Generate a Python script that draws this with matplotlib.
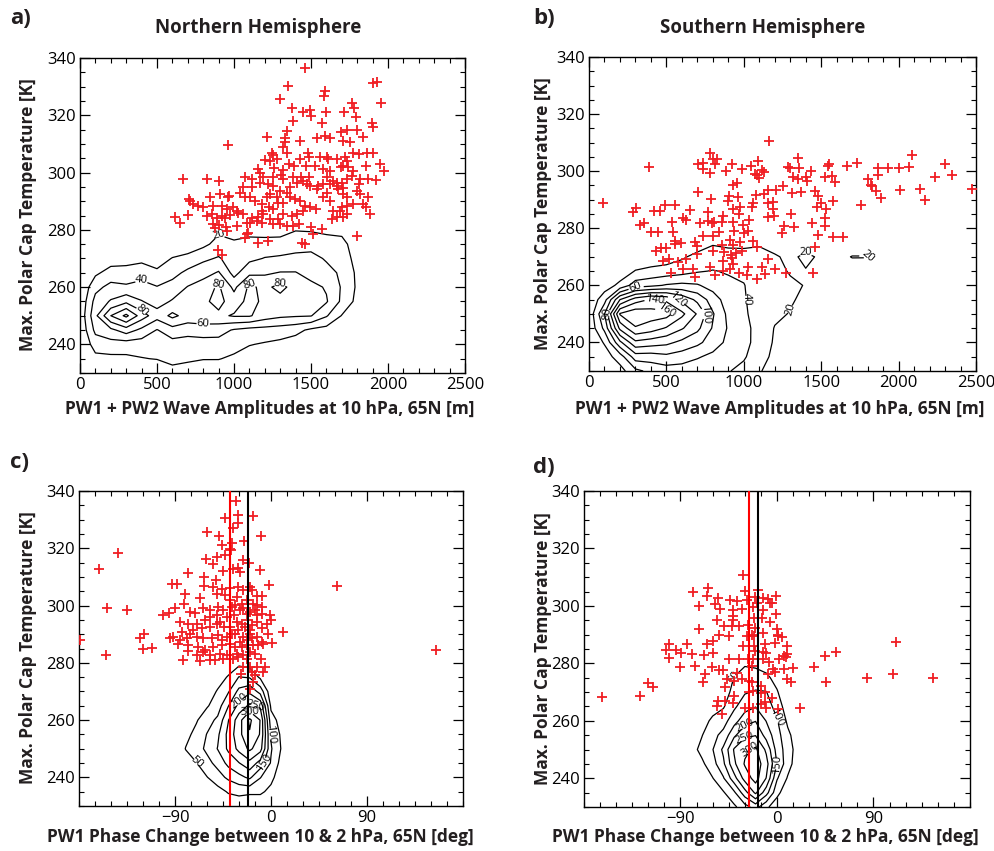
import numpy as np
import matplotlib
matplotlib.use('Agg')
import matplotlib.pyplot as plt
from matplotlib.ticker import MultipleLocator

plt.rcParams['font.family'] = ['Open Sans', 'DejaVu Sans']

# ---------------- scatter data ----------------
# panel a: NH wave amplitude [m] vs max polar cap temperature [K]
nh_amp = [1464, 1353, 1299, 1927, 1905, 1953, 1591, 1585, 1375, 1446, 1494, 1498, 1598, 1715, 1764, 1780,
          1793, 1894, 1901, 1381, 1570, 1347, 1331, 1217, 1429, 1331, 1321, 1541, 1591, 1624, 1693, 1736,
          1797, 1710, 1754, 1840, 961, 1245, 1256, 1234, 1202, 1277, 1342, 1360, 1429, 1483, 1490, 1559,
          1602, 1613, 1667, 1721, 1732, 1775, 1814, 1862, 1901, 1858, 1949, 1975, 1922, 1158, 1169, 1260,
          1321, 1390, 1468, 1526, 1580, 1624, 1693, 1710, 1743, 1771, 1602, 1645, 1667, 1700, 1732, 1764,
          1819, 1868, 1810, 1072, 1115, 1186, 1251, 1308, 1321, 1381, 1435, 1485, 1548, 1580, 1624, 1667,
          1678, 1710, 1710, 1732, 1797, 1819, 1868, 1840, 1855, 1884, 1775, 1732, 1700, 1732, 1689, 1645,
          1624, 1580, 1602, 1537, 1494, 1477, 1451, 1407, 1364, 1342, 1299, 1256, 1223, 1169, 1115, 1061,
          1039, 1072, 1104, 1137, 1180, 1212, 1234, 1277, 1288, 1321, 1364, 1396, 1429, 1461, 1494, 1533,
          1451, 1407, 1375, 1321, 1288, 1234, 1191, 1158, 1180, 1147, 1115, 1083, 1061, 1024, 996, 953,
          920, 888, 866, 877, 903, 946, 957, 1018, 1093, 1104, 866, 844, 801, 769, 736, 714,
          710, 704, 671, 617, 650, 827, 903, 909, 968, 1022, 823, 855, 1083, 1072, 1158, 1219,
          1251, 1299, 1342, 1381, 1420, 1498, 1511, 1570, 1635, 1667, 1710, 1442, 1459, 1797, 896, 924,
          963, 920, 942, 974, 1230, 1256, 1180]
nh_tmax_a = [336.5, 330.3, 325.7, 331.5, 331.3, 324.2, 328.6, 326.8, 322.5, 321.3, 321.8, 319.7, 321.2, 321.3, 324.2, 322.5,
             319.5, 317.2, 316.0, 318.1, 317.2, 314.4, 312.0, 312.5, 311.1, 310.5, 308.8, 311.9, 312.8, 312.0, 314.2, 314.8,
             314.8, 311.1, 310.5, 312.3, 309.6, 307.0, 306.2, 304.1, 304.3, 304.7, 307.0, 302.9, 304.7, 307.0, 305.5, 305.3,
             305.5, 304.7, 304.9, 305.3, 304.1, 307.0, 306.4, 306.7, 306.7, 302.4, 302.9, 300.4, 297.3, 301.2, 300.0, 301.5,
             300.8, 302.4, 302.4, 302.4, 301.2, 300.6, 301.8, 302.4, 301.8, 300.6, 298.5, 297.1, 296.5, 296.5, 297.7, 298.7,
             297.7, 297.7, 296.0, 298.3, 297.7, 298.5, 298.5, 299.2, 297.7, 298.5, 298.3, 298.5, 295.4, 296.0, 296.0, 295.4,
             294.2, 294.5, 292.5, 291.3, 293.6, 292.5, 291.3, 289.0, 287.8, 285.5, 289.0, 288.4, 287.8, 285.5, 286.6, 286.6,
             290.1, 291.3, 293.0, 294.2, 295.4, 296.0, 297.1, 296.5, 294.8, 293.0, 293.6, 295.4, 296.0, 296.5, 294.8, 294.8,
             293.0, 291.3, 291.3, 290.1, 289.0, 291.3, 292.5, 291.3, 289.5, 289.5, 291.3, 290.7, 290.1, 288.4, 287.8, 287.2,
             286.6, 285.5, 284.9, 285.5, 283.7, 283.7, 285.5, 284.5, 282.5, 283.1, 284.3, 282.5, 285.5, 285.7, 287.8, 287.2,
             284.9, 284.3, 282.0, 280.8, 281.7, 281.0, 279.6, 281.4, 279.0, 282.5, 288.4, 291.3, 287.8, 288.4, 289.0, 290.1,
             290.7, 285.2, 297.7, 284.6, 282.5, 297.6, 296.9, 292.5, 291.9, 286.6, 284.9, 285.5, 278.5, 277.3, 275.5, 276.1,
             282.0, 282.0, 281.4, 281.4, 282.2, 281.1, 278.7, 280.2, 283.7, 284.5, 284.5, 275.5, 274.9, 277.9, 272.9, 271.2,
             291.3, 288.4, 284.3, 285.2, 287.8, 287.2, 286.6]

# panel b: SH wave amplitude [m] vs max polar cap temperature [K]
sh_amp = [93, 282, 304, 329, 355, 390, 420, 459, 398, 448, 433, 463, 497, 480, 528, 491,
          556, 534, 545, 556, 592, 556, 577, 605, 627, 609, 627, 652, 670, 685, 685, 695,
          706, 717, 734, 739, 739, 706, 771, 771, 782, 803, 814, 825, 782, 788, 792, 808,
          803, 799, 782, 814, 842, 861, 861, 868, 863, 863, 872, 885, 900, 907, 911, 915,
          922, 928, 932, 932, 932, 937, 922, 928, 911, 950, 954, 965, 975, 971, 975, 986,
          986, 971, 997, 1001, 1029, 1029, 1018, 1036, 1046, 1051, 1062, 1062, 1072, 1079, 1083, 1087,
          1094, 1100, 1115, 1115, 1130, 1130, 1087, 1137, 1158, 1165, 1158, 1158, 1191, 1191, 1158, 1195,
          1208, 1201, 1251, 1260, 1245, 1272, 1285, 1298, 1303, 1309, 1320, 1324, 1350, 1359, 1352, 1367,
          1402, 1406, 1432, 1438, 1445, 1460, 1471, 1481, 1460, 1481, 1496, 1524, 1531, 1527, 1524, 1546,
          1552, 1568, 1574, 1589, 1574, 1643, 1664, 1733, 1755, 1804, 1819, 1826, 1854, 1865, 1869, 1884,
          1933, 2004, 2009, 2069, 2084, 2138, 2170, 2235, 2300, 2343, 2472, 700, 519]
sh_tmax_b = [289.0, 285.6, 287.1, 281.1, 281.8, 301.6, 286.0, 286.0, 278.8, 278.8, 271.9, 273.2, 273.0, 268.6, 264.4, 288.1,
             288.1, 282.1, 278.8, 275.7, 274.9, 274.5, 268.1, 265.6, 269.3, 283.5, 283.0, 286.5, 265.8, 262.9, 275.3, 273.9,
             302.4, 281.8, 303.0, 300.9, 277.4, 292.8, 285.8, 282.6, 306.2, 304.4, 302.4, 304.4, 299.3, 290.2, 281.8, 282.3,
             277.4, 272.2, 266.4, 263.5, 278.6, 274.2, 282.1, 284.4, 268.4, 264.9, 271.6, 300.1, 289.6, 291.4, 276.0, 270.5,
             302.4, 295.1, 286.7, 282.1, 274.2, 279.2, 269.5, 267.6, 265.6, 271.4, 295.8, 290.9, 287.6, 284.9, 275.1, 300.6,
             272.2, 264.4, 281.1, 278.3, 279.2, 266.4, 263.7, 283.0, 301.8, 287.3, 289.0, 275.7, 298.9, 291.6, 273.4, 298.5,
             303.5, 297.7, 266.4, 300.4, 299.7, 291.9, 262.3, 264.1, 269.3, 310.5, 293.4, 289.0, 289.3, 286.7, 283.8, 284.4,
             293.4, 265.8, 294.8, 280.7, 278.3, 264.4, 301.6, 301.2, 285.0, 292.5, 298.1, 280.3, 304.7, 301.2, 297.2, 292.7,
             298.1, 296.6, 300.1, 281.8, 264.4, 293.1, 287.3, 291.4, 273.4, 277.7, 288.8, 298.1, 286.7, 283.5, 280.9, 301.8,
             302.4, 298.3, 289.6, 296.2, 277.1, 276.8, 301.8, 303.0, 288.1, 297.2, 295.1, 294.8, 293.1, 298.6, 301.1, 290.5,
             301.1, 301.1, 293.4, 301.6, 305.5, 293.7, 289.9, 298.1, 302.5, 298.5, 293.9, 270.9, 269.1]

# panel c: NH PW1 phase change [deg] vs max polar cap temperature [K]
nh_phase = [-33.1, -43.1, -30.6, -31.2, -16.5, -35.9, -59.6, -48.7, -36.8, -25.3, -9.6, -46.2, -38.4, -37.5, -43.1, -143.7,
            -60.9, -50.9, -54.0, -25.9, -20.3, -35.9, -30.6, -29.0, -10.3, -44.6, -160.9, -77.5, -62.8, -51.8, -93.1, -87.8,
            -62.5, -54.0, -46.2, -38.4, -30.6, -25.9, -19.6, -18.1, -13.4, -8.7, -1.8, 61.6, -80.6, -66.5, -50.9, -43.1,
            -32.2, -22.8, -17.1, -8.7, -153.4, -135.3, -100.9, -95.6, -90.0, -81.2, -75.9, -71.2, -63.4, -57.1, -50.9, -44.6,
            -36.8, -34.7, -29.0, -22.8, -14.9, -0.9, -0.3, -4.0, -85.3, -77.5, -69.6, -61.8, -57.1, -50.9, -44.0, -38.4,
            -32.2, -27.5, -21.2, -18.1, -13.4, -8.7, 11.6, -179.0, -122.8, -119.0, -91.5, -83.7, -75.9, -69.6, -63.4, -55.6,
            -49.3, -41.5, -33.7, -25.9, -19.6, -13.4, -8.7, -2.5, 0.7, -120.3, -111.8, -86.8, -77.5, -68.1, -61.8, -54.0,
            -46.2, -38.4, -33.7, -29.0, -22.8, -16.5, -155.0, -77.5, -69.6, -63.4, -57.1, -47.8, -41.5, -32.2, -25.9, -19.6,
            -82.8, -66.5, -57.1, -52.5, -44.6, -35.9, -30.6, -22.1, -14.9, -9.7, -25.9, -19.6, -12.8, -5.6, -28.4, -18.1,
            -14.9, -7.2, -16.5, -19.6, -38.4, -33.7, -27.5, -25.9, -19.6, -13.4, -41.5, -47.8, -24.3, -19.6, -30.6, -36.8,
            -46.2, -22.8, -18.1, -27.5, -11.8, -7.2, -13.4, -8.7, -49.3, -57.1, -65.0, -72.8, -79.0, -94.6, -85.3, 155.0]
nh_tmax_c = [336.6, 330.4, 331.6, 328.7, 331.3, 327.2, 325.8, 324.3, 321.7, 322.5, 324.4, 321.3, 319.9, 319.4, 317.8, 318.2,
             316.4, 317.0, 314.5, 315.8, 314.7, 312.7, 313.2, 311.8, 312.4, 312.0, 312.6, 311.2, 309.8, 308.9, 307.5, 307.5,
             306.8, 306.5, 305.9, 306.3, 306.5, 305.4, 306.5, 305.4, 303.3, 303.3, 307.1, 306.8, 304.2, 302.5, 304.2, 303.6,
             303.0, 301.9, 300.7, 299.5, 299.3, 298.6, 296.8, 297.4, 299.0, 300.5, 297.6, 297.4, 299.0, 298.4, 296.6, 298.4,
             299.5, 296.6, 298.4, 297.2, 298.4, 296.6, 295.1, 293.7, 294.3, 293.7, 293.7, 294.9, 292.5, 293.7, 292.5, 292.5,
             294.3, 293.7, 294.9, 293.1, 294.3, 292.0, 290.8, 287.9, 288.5, 290.0, 289.0, 290.8, 290.2, 289.0, 288.5, 288.5,
             289.6, 289.0, 290.2, 289.0, 290.2, 289.0, 287.3, 289.9, 287.0, 285.0, 285.3, 286.5, 286.1, 285.5, 284.4, 285.5,
             286.1, 286.7, 285.5, 287.3, 286.1, 286.1, 282.9, 284.0, 282.6, 283.8, 282.6, 283.2, 282.6, 283.2, 282.6, 283.8,
             280.9, 280.6, 280.9, 280.9, 281.5, 281.5, 282.1, 281.5, 283.2, 281.5, 278.6, 278.6, 278.6, 278.6, 276.2, 276.8,
             275.6, 276.8, 273.3, 271.0, 301.9, 300.1, 300.7, 299.0, 297.8, 296.6, 296.0, 294.3, 292.5, 291.4, 291.4, 290.2,
             287.9, 287.9, 288.5, 285.5, 286.1, 286.7, 300.1, 297.2, 299.5, 296.0, 292.0, 291.4, 288.5, 288.5, 287.9, 284.6]

# panel d: SH PW1 phase change [deg] vs max polar cap temperature [K]
sh_phase = [-31.3, -78.0, -64.0, -29.8, -17.3, -64.9, -54.7, -43.8, -37.6, -28.2, -20.5, -13.3, -8.0, -0.9, -72.4, -57.8,
            -53.1, -40.7, -32.9, -12.7, -4.9, -21.4, -14.3, -0.9, -40.7, -55.6, -41.3, -6.5, -49.1, -42.2, -35.1, -26.7,
            -72.4, -53.7, -44.4, -28.2, -23.6, -13.3, -0.2, 1.3, 4.4, -100.4, -84.2, -64.9, -59.9, -31.3, -21.4, -11.1,
            -1.8, 9.7, -103.5, -94.2, -89.8, -79.5, -68.0, -59.9, -20.8, -13.1, -10.0, 6.6, 8.5, 44.9, 55.1, 111.1,
            -100.4, -44.4, -35.1, -26.7, -22.0, -13.3, -7.1, 2.2, -90.4, -76.4, -60.9, -53.7, -50.6, -37.6, -23.6, -4.0,
            6.6, 15.3, 34.6, -67.1, -46.3, -40.1, -32.9, -23.6, -15.2, -8.0, -1.8, 9.7, 12.8, 45.8, 84.4, 108.0,
            145.3, -120.0, -115.9, -69.3, -48.4, -127.7, -163.5, -40.1, -25.7, -22.6, -15.2, -11.1, -4.9, -11.1, -54.7, -48.4,
            -41.3, -55.6, -29.8, -22.0, -15.2, -10.2, 1.3, 21.5, -51.5, -25.7, -21.4, -20.5, -22.0, -18.9, 1.3, 9.1, -6.5]
sh_tmax_d = [310.8, 304.7, 306.2, 305.3, 305.6, 303.5, 302.7, 302.0, 301.6, 302.2, 303.1, 302.7, 302.4, 303.3, 300.1, 300.8,
             298.9, 298.7, 298.9, 298.7, 301.0, 295.8, 295.8, 297.3, 296.4, 295.0, 295.0, 294.3, 292.9, 292.9, 292.9, 293.5,
             291.8, 289.7, 289.5, 289.5, 289.7, 290.6, 291.8, 289.5, 289.2, 286.6, 286.9, 286.9, 287.7, 286.0, 286.0, 286.6,
             287.2, 286.2, 284.6, 284.6, 283.5, 283.1, 282.8, 283.7, 284.3, 283.9, 283.7, 282.5, 282.3, 282.5, 284.0, 287.4,
             282.0, 281.4, 281.6, 281.4, 281.4, 281.4, 280.4, 281.4, 278.8, 279.1, 278.8, 277.7, 277.7, 276.8, 279.1, 277.9,
             277.9, 278.5, 278.8, 276.2, 274.4, 273.9, 274.4, 273.5, 272.1, 276.2, 277.0, 274.7, 273.5, 273.5, 275.0, 276.2,
             275.0, 273.1, 271.9, 273.5, 271.9, 268.7, 268.4, 268.7, 270.0, 270.4, 269.6, 270.0, 268.1, 266.4, 267.0, 267.0,
             266.1, 265.2, 264.6, 264.6, 265.8, 264.3, 264.0, 264.6, 262.3, 273.9, 289.5, 292.4, 299.6, 301.0, 289.7, 283.1, 301.0]

# vertical reference lines in panels c and d [deg]
nh_phase_red, nh_phase_black = -38, -22
sh_phase_red, sh_phase_black = -26, -18

# ---------------- event-density fields for the contours ----------------
temp_nodes_a = np.arange(230, 290, 5)          # 230..285
amp_nodes_a = np.arange(0, 2100, 100)          # 0..2000
# one list per amplitude node, values along temperature nodes
dens_a_cols = [
    [0, 0, 1, 3, 5, 3, 1, 0, 0, 0, 0, 0],
    [0, 14, 29, 45, 55, 47, 34, 16, 5, 0, 0, 0],
    [0, 15, 32, 55, 100, 62, 46, 28, 10, 2, 0, 0],
    [0, 16, 30, 70, 125, 75, 43, 28, 12, 3, 0, 0],
    [0, 19, 30, 55, 90, 61, 46, 33, 14, 3, 0, 0],
    [2, 21, 32, 39, 68, 52, 41, 24, 10, 2, 0, 0],
    [10, 28, 32, 52, 85, 62, 48, 33, 21, 5, 0, 0],
    [8, 24, 30, 48, 72, 70, 61, 45, 26, 8, 0, 0],
    [6, 21, 31, 50, 74, 76, 70, 52, 36, 15, 3, 0],
    [5, 21, 32, 48, 76, 86, 83, 62, 42, 27, 16, 4],
    [3, 16, 28, 38, 82, 70, 55, 33, 30, 24, 10, 0],
    [0, 10, 21, 33, 82, 86, 84, 55, 35, 26, 14, 2],
    [0, 6, 18, 32, 70, 76, 75, 57, 41, 27, 12, 0],
    [0, 4, 15, 30, 64, 72, 86, 61, 43, 28, 12, 0],
    [0, 2, 10, 26, 62, 68, 72, 61, 45, 32, 19, 5],
    [0, 0, 5, 16, 61, 66, 66, 52, 46, 33, 18, 4],
    [0, 0, 2, 12, 42, 62, 58, 46, 38, 30, 15, 2],
    [0, 0, 0, 6, 19, 36, 38, 37, 32, 27, 14, 2],
    [0, 0, 0, 0, 5, 14, 17, 16, 12, 8, 3, 0],
    [0, 0, 0, 0, 0, 3, 4, 3, 2, 0, 0, 0],
    [0, 0, 0, 0, 0, 0, 0, 0, 0, 0, 0, 0],
]
levels_a = [20, 40, 60, 80, 100, 120]
labels_a = [20, 40, 60, 80]

temp_nodes_b = np.arange(230, 285, 5)          # 230..280
amp_nodes_b = np.arange(0, 2600, 100)          # 0..2500
dens_b_cols = [
    [0, 0, 2, 4, 5, 4, 2, 0, 0, 0, 0],
    [2, 10, 22, 45, 60, 32, 10, 3, 0, 0, 0],
    [12, 30, 75, 125, 162, 100, 25, 8, 0, 0, 0],
    [35, 70, 115, 158, 175, 130, 50, 21, 5, 0, 0],
    [45, 70, 110, 150, 170, 142, 55, 25, 8, 0, 0],
    [50, 75, 105, 138, 168, 135, 62, 28, 10, 2, 0],
    [50, 70, 95, 122, 145, 115, 65, 32, 17, 3, 0],
    [48, 62, 85, 105, 118, 95, 62, 38, 26, 8, 0],
    [45, 55, 70, 78, 82, 70, 52, 41, 28, 18, 2],
    [41, 48, 55, 58, 55, 50, 45, 38, 28, 15, 2],
    [35, 42, 44, 45, 43, 42, 41, 35, 27, 15, 2],
    [22, 30, 35, 34, 32, 30, 28, 26, 25, 18, 2],
    [10, 14, 17, 19, 24, 28, 30, 27, 22, 12, 0],
    [5, 8, 12, 15, 19, 22, 24, 18, 16, 8, 0],
    [0, 3, 6, 10, 12, 16, 19, 19, 24, 10, 0],
    [0, 0, 2, 4, 6, 8, 10, 12, 17, 6, 0],
    [0, 0, 0, 2, 3, 4, 6, 8, 12, 4, 0],
    [0, 0, 0, 0, 2, 3, 4, 8, 21, 4, 0],
    [0, 0, 0, 0, 0, 2, 3, 6, 21, 3, 0],
    [0, 0, 0, 0, 0, 0, 2, 3, 8, 2, 0],
    [0, 0, 0, 0, 0, 0, 0, 0, 0, 0, 0],
    [0, 0, 0, 0, 0, 0, 0, 0, 0, 0, 0],
    [0, 0, 0, 0, 0, 0, 0, 0, 0, 0, 0],
    [0, 0, 0, 0, 0, 0, 0, 0, 0, 0, 0],
    [0, 0, 0, 0, 0, 0, 0, 0, 0, 0, 0],
    [0, 0, 0, 0, 0, 0, 0, 0, 0, 0, 0],
]
levels_b = [20, 40, 60, 80, 100, 120, 140, 160]

temp_nodes_cd = np.arange(230, 290, 5)         # 230..285
phase_nodes = np.arange(-90, 40, 10)           # -90..30
dens_c_cols = [
    [0, 0, 0, 0, 0, 0, 0, 0, 0, 0, 0, 0],
    [0, 0, 5, 25, 52, 35, 15, 0, 0, 0, 0, 0],
    [0, 5, 25, 48, 80, 65, 45, 20, 5, 0, 0, 0],
    [0, 15, 48, 85, 110, 102, 80, 45, 20, 5, 0, 0],
    [5, 30, 80, 115, 152, 140, 110, 75, 55, 25, 5, 0],
    [15, 55, 110, 165, 210, 215, 198, 148, 95, 55, 15, 0],
    [15, 65, 135, 198, 265, 285, 280, 215, 165, 102, 35, 0],
    [10, 60, 160, 235, 310, 345, 360, 260, 190, 95, 25, 0],
    [10, 60, 102, 180, 270, 296, 298, 240, 130, 40, 5, 0],
    [5, 35, 65, 95, 105, 95, 70, 40, 15, 0, 0, 0],
    [0, 5, 15, 30, 45, 40, 30, 15, 5, 0, 0, 0],
    [0, 0, 0, 0, 0, 0, 0, 0, 0, 0, 0, 0],
    [0, 0, 0, 0, 0, 0, 0, 0, 0, 0, 0, 0],
]
levels_c = [50, 100, 150, 200, 250, 300, 350]

dens_d_cols = [
    [0, 0, 0, 0, 0, 0, 0, 0, 0, 0, 0, 0],
    [0, 2, 8, 15, 30, 20, 5, 0, 0, 0, 0, 0],
    [0, 10, 25, 40, 65, 48, 30, 10, 0, 0, 0, 0],
    [5, 25, 48, 80, 98, 85, 60, 30, 10, 0, 0, 0],
    [20, 45, 95, 140, 160, 115, 80, 45, 20, 5, 0, 0],
    [40, 90, 180, 240, 255, 190, 130, 90, 70, 52, 20, 0],
    [80, 180, 270, 305, 290, 240, 180, 130, 95, 68, 45, 10],
    [120, 260, 320, 330, 310, 248, 198, 148, 105, 70, 40, 10],
    [60, 170, 248, 270, 240, 180, 148, 125, 102, 62, 25, 0],
    [20, 65, 105, 148, 130, 120, 105, 80, 55, 30, 5, 0],
    [0, 15, 45, 70, 75, 62, 40, 20, 5, 0, 0, 0],
    [0, 0, 10, 20, 25, 20, 10, 0, 0, 0, 0, 0],
    [0, 0, 0, 0, 0, 0, 0, 0, 0, 0, 0, 0],
]
levels_d = [50, 100, 150, 200, 250, 300]

# ---------------- figure ----------------
W, H = 995, 851
fig = plt.figure(figsize=(W / 100, H / 100), dpi=100)


def px_axes(left, top, right, bottom):
    return fig.add_axes([left / W, 1 - bottom / H, (right - left) / W, (bottom - top) / H])


def style(ax, xminor):
    ax.set_ylim(230, 340)
    ax.set_yticks([240, 260, 280, 300, 320, 340])
    ax.yaxis.set_minor_locator(MultipleLocator(5))
    ax.xaxis.set_minor_locator(MultipleLocator(xminor))
    ax.tick_params(which='both', direction='in', top=True, right=True, labelsize=12, pad=3)
    ax.tick_params(which='major', length=7, width=0.9)
    ax.tick_params(which='minor', length=3.5, width=0.8)
    for s in ax.spines.values():
        s.set_linewidth(1.0)


def draw_contour(ax, xn, yn, cols, levels, labels=None):
    Z = np.array(cols, dtype=float).T
    cs = ax.contour(xn, yn, Z, levels=levels, colors='k', linewidths=0.9)
    ax.clabel(cs, labels if labels else levels, fmt='%d', fontsize=8, inline=True, inline_spacing=2)


plus = dict(ls='none', marker='+', color='#f01e23', ms=7, mew=1.3, zorder=4)

# a) NH amplitude
ax_a = px_axes(80, 58, 465, 373)
draw_contour(ax_a, amp_nodes_a, temp_nodes_a, dens_a_cols, levels_a, labels_a)
ax_a.plot(nh_amp, nh_tmax_a, **plus)
ax_a.set_xlim(0, 2500)
ax_a.set_xticks([0, 500, 1000, 1500, 2000, 2500])
style(ax_a, 100)

# b) SH amplitude
ax_b = px_axes(589, 57, 976, 371)
draw_contour(ax_b, amp_nodes_b, temp_nodes_b, dens_b_cols, levels_b)
ax_b.plot(sh_amp, sh_tmax_b, **plus)
ax_b.set_xlim(0, 2500)
ax_b.set_xticks([0, 500, 1000, 1500, 2000, 2500])
style(ax_b, 100)

# c) NH phase change
ax_c = px_axes(79, 491, 463, 806)
draw_contour(ax_c, phase_nodes, temp_nodes_cd, dens_c_cols, levels_c)
ax_c.plot(nh_phase, nh_tmax_c, **plus)
ax_c.axvline(nh_phase_red, color='red', lw=1.5, zorder=5)
ax_c.axvline(nh_phase_black, color='black', lw=1.5, zorder=5)
ax_c.set_xlim(-180, 180)
ax_c.set_xticks([-90, 0, 90])
style(ax_c, 15)

# d) SH phase change
ax_d = px_axes(584, 491, 970, 807)
draw_contour(ax_d, phase_nodes, temp_nodes_cd, dens_d_cols, levels_d)
ax_d.plot(sh_phase, sh_tmax_d, **plus)
ax_d.axvline(sh_phase_red, color='red', lw=1.5, zorder=5)
ax_d.axvline(sh_phase_black, color='black', lw=1.5, zorder=5)
ax_d.set_xlim(-180, 180)
ax_d.set_xticks([-90, 0, 90])
style(ax_d, 15)

# ---------------- text ----------------
def ftext(x, y, s, **kw):
    fig.text(x / W, 1 - y / H, s, **kw)


lab = dict(fontsize=12.5, fontweight='bold', color='#231f20')
ftext(270, 409, 'PW1 + PW2 Wave Amplitudes at 10 hPa, 65N [m]', ha='center', va='center', **lab)
ftext(780, 409, 'PW1 + PW2 Wave Amplitudes at 10 hPa, 65N [m]', ha='center', va='center', **lab)
ftext(260, 837, 'PW1 Phase Change between 10 & 2 hPa, 65N [deg]', ha='center', va='center', **lab)
ftext(765, 837, 'PW1 Phase Change between 10 & 2 hPa, 65N [deg]', ha='center', va='center', **lab)
ytxt = 'Max. Polar Cap Temperature [K]'
ftext(28, 215, ytxt, ha='center', va='center', rotation=90, **lab)
ftext(543, 214, ytxt, ha='center', va='center', rotation=90, **lab)
ftext(28, 648, ytxt, ha='center', va='center', rotation=90, **lab)
ftext(543, 649, ytxt, ha='center', va='center', rotation=90, **lab)

ttl = dict(fontsize=13.5, fontweight='bold', color='#231f20', ha='center', va='center')
ftext(258, 28, 'Northern Hemisphere', **ttl)
ftext(763, 28, 'Southern Hemisphere', **ttl)

pl = dict(fontsize=16, fontweight='bold', color='#231f20', ha='left', va='center')
ftext(10, 19, 'a)', **pl)
ftext(533, 19, 'b)', **pl)
ftext(10, 462, 'c)', **pl)
ftext(533, 467, 'd)', **pl)

fig.savefig('out.png', dpi=100)
